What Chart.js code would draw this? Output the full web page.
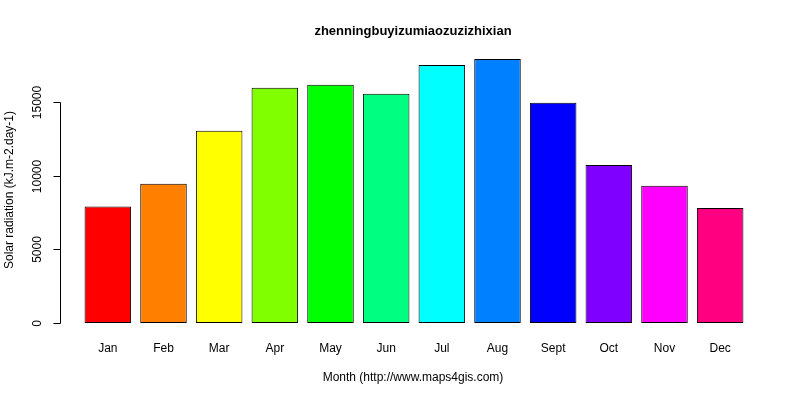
<!DOCTYPE html>
<html><head><script src="https://cdn.jsdelivr.net/npm/chart.js@4"></script>
<style>body{margin:0;background:#fff}#w{width:800px;height:400px}</style></head>
<body><div id="w"><canvas id="c"></canvas></div>
<script>
const months=["Jan","Feb","Mar","Apr","May","Jun","Jul","Aug","Sept","Oct","Nov","Dec"];
const radiation=[7900,9450,13030,15950,16150,15550,17500,17900,14930,10720,9300,7800];
const yTicks=[0,5000,10000,15000];
const colors=["#FF0000","#FF8000","#FFFF00","#80FF00","#00FF00","#00FF80","#00FFFF","#0080FF","#0000FF","#8000FF","#FF00FF","#FF0080"];
const F='12px "Liberation Sans", Arial, sans-serif';
const axes={id:'axes',afterDraw(ch){
 const c=ch.ctx,y=ch.scales.y,x=ch.scales.x;c.save();c.fillStyle='#000';c.strokeStyle='#000';c.lineWidth=1;
 c.font='bold 13px "Liberation Sans", Arial, sans-serif';c.textAlign='center';c.textBaseline='middle';
 c.fillText('zhenningbuyizumiaozuzizhixian',413,31);
 c.font=F;
 const ax=60.5;c.beginPath();c.moveTo(ax,Math.round(y.getPixelForValue(0))+.5);c.lineTo(ax,Math.round(y.getPixelForValue(15000))+.5);c.stroke();
 yTicks.forEach(v=>{const p=Math.round(y.getPixelForValue(v))+.5;c.beginPath();c.moveTo(ax,p);c.lineTo(ax-7,p);c.stroke();
  c.save();c.translate(38,p);c.rotate(-Math.PI/2);c.fillText(String(v),0,0);c.restore();});
 months.forEach((m,i)=>c.fillText(m,x.getPixelForValue(i),349));
 c.fillText('Month (http://www.maps4gis.com)',413,378);
 c.save();c.translate(10,190);c.rotate(-Math.PI/2);c.fillText('Solar radiation (kJ.m-2.day-1)',0,0);c.restore();
 c.restore();}};
new Chart(document.getElementById('c'),{type:'bar',
 data:{labels:months,datasets:[{data:radiation,backgroundColor:colors,borderColor:'#000',borderWidth:1,borderSkipped:false,barPercentage:0.836,categoryPercentage:1}]},
 options:{responsive:true,maintainAspectRatio:false,animation:false,
  layout:{padding:{left:80,right:52,top:48,bottom:77}},
  plugins:{legend:{display:false},tooltip:{enabled:false}},
  scales:{x:{display:false},y:{display:false,min:0,max:18650}}},
 plugins:[axes]});
</script></body></html>
